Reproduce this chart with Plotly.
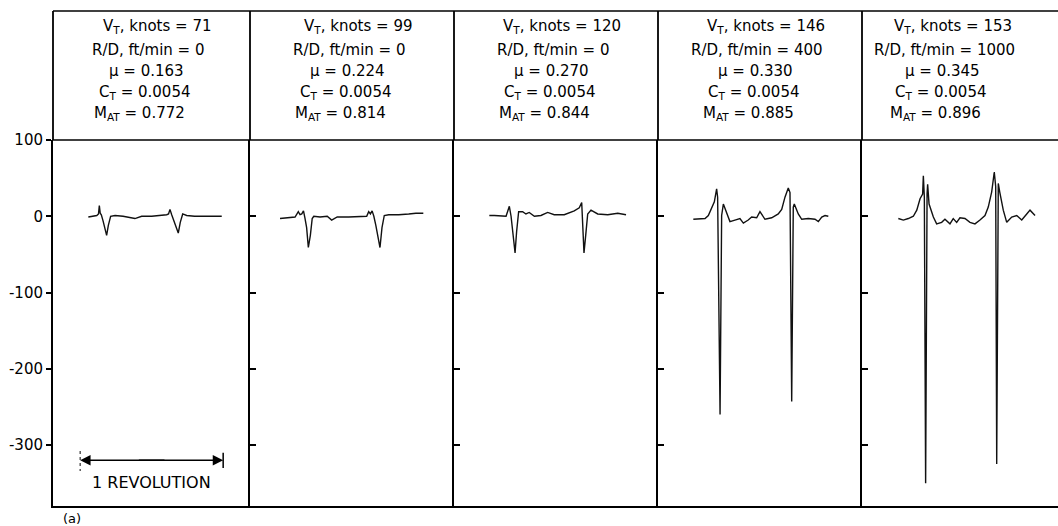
import plotly.graph_objects as go

# ---------------- data ----------------
vt_knots = [71, 99, 120, 146, 153]
rd_ftmin = [0, 0, 0, 400, 1000]
mu_vals = ["0.163", "0.224", "0.270", "0.330", "0.345"]
ct_vals = ["0.0054", "0.0054", "0.0054", "0.0054", "0.0054"]
mat_vals = ["0.772", "0.814", "0.844", "0.885", "0.896"]

y_tickvals = [100, 0, -100, -200, -300]
y_ticktext = ["100", "0", "-100", "-200", "-300"]

# azimuth position in revolutions, measured pressure (arbitrary units)
x1 = [0.057, 0.090, 0.116, 0.128, 0.134, 0.140, 0.148, 0.160, 0.174, 0.185, 0.197, 0.213, 0.244, 0.30,
      0.383, 0.43, 0.50, 0.56, 0.605, 0.618, 0.628, 0.640, 0.655, 0.672, 0.686, 0.700, 0.717, 0.745,
      0.80, 0.88, 0.95, 0.990]
y1 = [-1, 0, 1, 3, 14, 4, 2, -6, -18, -25, -12, 0, 1, 0,
      -3, 0, 0, 1, 2, 3, 9, 2, -6, -15, -22, -8, 3, 1,
      0, 0, 0, 0]

x2 = [0.020, 0.08, 0.125, 0.148, 0.160, 0.172, 0.184, 0.194, 0.206, 0.218, 0.232, 0.245, 0.256, 0.30,
      0.35, 0.381, 0.42, 0.50, 0.58, 0.626, 0.640, 0.652, 0.664, 0.676, 0.690, 0.706, 0.719, 0.733,
      0.749, 0.78, 0.85, 0.92, 0.97, 1.022]
y2 = [-3, -2, -1, 6, 2, 3, 7, -2, -15, -41, -25, -3, 0, -1,
      0, -5, -1, -1, 0, 0, 6, 3, 7, 0, -12, -30, -41, -15,
      1, 2, 2, 3, 4, 4]

x3 = [0.057, 0.092, 0.174, 0.197, 0.209, 0.227, 0.237, 0.248, 0.262, 0.290, 0.313, 0.336, 0.372, 0.418,
      0.465, 0.511, 0.581, 0.651, 0.686, 0.703, 0.712, 0.719, 0.731, 0.745, 0.768, 0.815, 0.885, 0.955,
      1.013]
y3 = [1, 1, 0, 13, 0, -30, -48, -20, 6, 6, 3, 5, 0, 1,
      5, 2, 2, 7, 11, 18, -20, -48, -25, 3, 8, 3, 2, 4,
      2]

x4 = [0.057, 0.139, 0.162, 0.185, 0.204, 0.220, 0.227, 0.244, 0.255, 0.267, 0.290, 0.313, 0.348, 0.383,
      0.407, 0.441, 0.465, 0.500, 0.523, 0.558, 0.605, 0.651, 0.675, 0.698, 0.721, 0.733, 0.745, 0.756,
      0.763, 0.791, 0.815, 0.861, 0.908, 0.931, 0.955, 0.978, 1.001]
y4 = [-4, -3, 1, 10, 19, 36, 25, -260, 1, 16, 3, -7, -5, -3,
      -9, -5, -1, -2, 6, -4, -2, 3, 9, 25, 37, 31, -243, 12,
      16, 3, -4, -3, -4, -7, -1, 1, 0]

x5 = [0.064, 0.099, 0.134, 0.169, 0.193, 0.216, 0.234, 0.239, 0.246, 0.255, 0.265, 0.269, 0.279, 0.309,
      0.332, 0.367, 0.390, 0.425, 0.448, 0.472, 0.495, 0.530, 0.565, 0.600, 0.635, 0.670, 0.693, 0.717,
      0.735, 0.745, 0.752, 0.763, 0.773, 0.798, 0.822, 0.857, 0.892, 0.927, 0.962, 0.985, 1.020]
y5 = [-3, -5, -3, 0, 8, 23, 29, 53, 25, -350, 29, 42, 16, -1,
      -10, -8, -4, -10, -3, -8, -2, -3, -8, -10, -5, 1, 12, 32,
      58, 39, -325, 43, 32, 8, -8, -1, 1, -5, 3, 8, 1]

xs = [x1, x2, x3, x4, x5]
ys = [y1, y2, y3, y4, y5]

# ---------------- layout geometry ----------------
W, H = 1058, 526
ML, MR, MT, MB = 53, 0, 11, 20
plot_w = W - ML - MR
plot_h = H - MT - MB
panel_edges_px = [53, 250, 454, 658, 862, 1058]
px_per_rev = 143.0
x_start = -0.19
y_range = [-380, 100]
axis_top_px = 140
axis_bottom_px = 506
dom_top = (axis_bottom_px - axis_top_px) / plot_h


def px_to_paper_x(px):
    return (px - ML) / plot_w


def py_to_paper_y(py):
    return (H - MB - py) / plot_h


fig = go.Figure()
font_family = "DejaVu Sans"

for i in range(5):
    n = i + 1
    sfx = "" if n == 1 else str(n)
    fig.add_trace(go.Scatter(
        x=xs[i], y=ys[i], mode="lines",
        line=dict(color="#111111", width=1.4),
        xaxis="x" + sfx, yaxis="y" + sfx, showlegend=False, hoverinfo="skip"))
    left, right = panel_edges_px[i], panel_edges_px[i + 1]
    d0, d1 = px_to_paper_x(left), px_to_paper_x(right)
    width_rev = (right - left) / px_per_rev
    fig.layout["xaxis" + sfx] = dict(
        domain=[d0, d1], range=[x_start, x_start + width_rev], anchor="y" + sfx,
        showgrid=False, zeroline=False, showticklabels=False, ticks="",
        showline=True, linecolor="black", linewidth=1.5)
    fig.layout["yaxis" + sfx] = dict(
        domain=[0, dom_top], range=y_range, anchor="x" + sfx,
        showgrid=False, zeroline=False,
        tickvals=y_tickvals, ticktext=y_ticktext,
        showticklabels=(n == 1),
        ticks="outside" if n == 1 else "inside", ticklen=5 if n == 1 else 6,
        tickwidth=1.5, tickcolor="black",
        tickfont=dict(family=font_family, size=15, color="black"),
        showline=True, linecolor="black", linewidth=2)

# ---------------- header box ----------------
shapes = []
shapes.append(dict(type="line", xref="paper", yref="paper", x0=0, x1=1, y0=1, y1=1,
                   line=dict(color="black", width=1.5)))
shapes.append(dict(type="line", xref="paper", yref="paper", x0=0, x1=1, y0=dom_top, y1=dom_top,
                   line=dict(color="black", width=1.5)))
for e in panel_edges_px[:-1]:
    xp = px_to_paper_x(e)
    shapes.append(dict(type="line", xref="paper", yref="paper", x0=xp, x1=xp, y0=dom_top, y1=1,
                       line=dict(color="black", width=1.8)))

annotations = []
line_y_px = [27, 50, 71, 92, 113]
line_dx = [6, -3, -5, -6, -12]
panel_text_center = [151, 352, 556, 760, 947]
for i in range(5):
    lines = [
        "V<sub>T</sub>, knots = %d" % vt_knots[i],
        "R/D, ft/min = %d" % rd_ftmin[i],
        "\u03bc = %s" % mu_vals[i],
        "C<sub>T</sub> = %s" % ct_vals[i],
        "M<sub>AT</sub> = %s" % mat_vals[i],
    ]
    for j, t in enumerate(lines):
        annotations.append(dict(
            text=t, xref="paper", yref="paper",
            x=px_to_paper_x(panel_text_center[i] + line_dx[j]),
            y=py_to_paper_y(line_y_px[j]),
            xanchor="center", yanchor="middle", showarrow=False,
            font=dict(family=font_family, size=15, color="black")))

# ---------------- 1 revolution marker (panel 1) ----------------
rev_y = -320
for tip, tail in ((0.0, 0.6), (1.0, 0.4)):
    annotations.append(dict(
        x=tip, y=rev_y, ax=tail, ay=rev_y, xref="x", yref="y", axref="x", ayref="y",
        text="", showarrow=True, arrowhead=2, arrowsize=1.3, arrowwidth=1.6,
        arrowcolor="black"))
shapes.append(dict(type="line", xref="x", yref="y", x0=0, x1=0, y0=-308, y1=-334,
                   line=dict(color="#333333", width=1.2, dash="dot")))
shapes.append(dict(type="line", xref="x", yref="y", x0=1, x1=1, y0=-310, y1=-330,
                   line=dict(color="black", width=1.5)))
annotations.append(dict(
    text="1 REVOLUTION", x=0.5, y=-349, xref="x", yref="y", showarrow=False,
    xanchor="center", yanchor="middle",
    font=dict(family=font_family, size=16, color="black")))

annotations.append(dict(
    text="(a)", xref="paper", yref="paper", x=px_to_paper_x(72), y=py_to_paper_y(518),
    xanchor="center", yanchor="middle", showarrow=False,
    font=dict(family=font_family, size=13, color="black")))

fig.update_layout(
    width=W, height=H,
    margin=dict(l=ML, r=MR, t=MT, b=MB),
    plot_bgcolor="white", paper_bgcolor="white",
    showlegend=False, shapes=shapes, annotations=annotations,
    font=dict(family=font_family, color="black"))

fig.write_html("out.html", config={"displayModeBar": False},
               post_script="document.body.style.margin='0';document.body.style.overflow='hidden';")
